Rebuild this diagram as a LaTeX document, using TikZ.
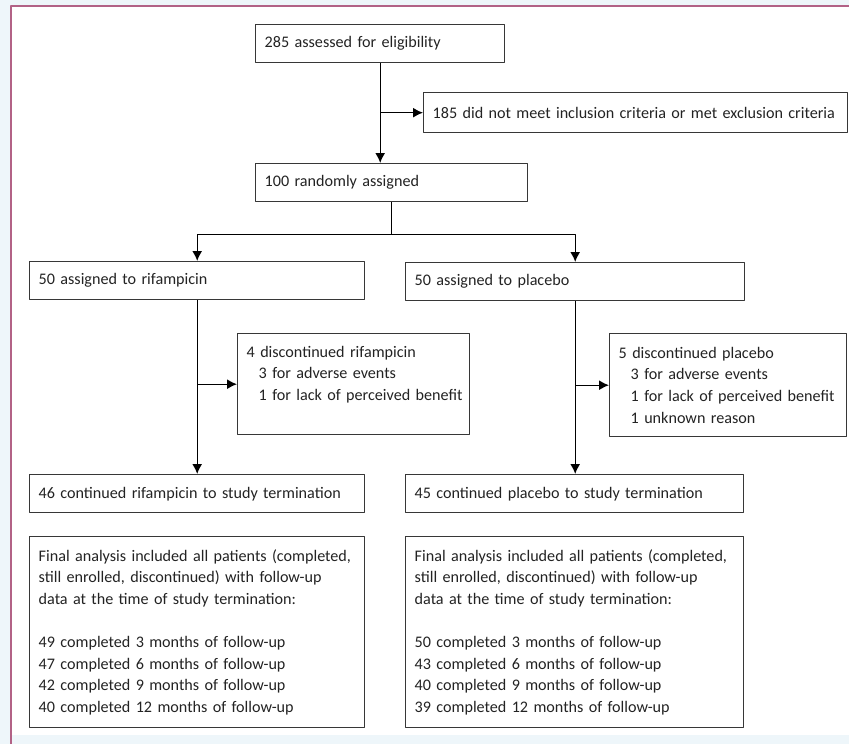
\documentclass[tikz,border=0pt]{standalone}
\usepackage{fontspec}
\setmainfont{Carlito}
\usetikzlibrary{arrows.meta,calc}
\definecolor{framepink}{RGB}{178,98,134}
\definecolor{boxline}{RGB}{55,55,55}
\definecolor{boxtext}{RGB}{35,35,35}
\definecolor{pagetint}{RGB}{238,246,250}
\begin{document}
\begin{tikzpicture}[x=1bp,y=-1bp,>={Latex[length=10bp,width=10bp]},line join=bevel,
  flowbox/.style={draw=boxline,line width=1.4bp,anchor=north west,inner xsep=9bp,inner ysep=0bp,
    align=left,text=boxtext,font=\fontsize{16.2}{21.7}\selectfont},
  flowline/.style={line width=1.4bp,draw=black}]
%%
\useasboundingbox (0,0) rectangle (849,744);
\fill [pagetint] (0,0) rectangle (849,744);
\fill [white] (12,7) rectangle (849,735);
\draw [framepink,line width=2bp] (11,744) -- (11,6) -- (849,6);
%
\node (elig) at (255,24) [flowbox,minimum width=249bp,minimum height=38bp,text width=231bp] {285 assessed for eligibility};
  \node (excl) at (423,92) [flowbox,minimum width=424bp,minimum height=40bp,text width=406bp] {185 did not meet inclusion criteria or met exclusion criteria};
  \node (rand) at (255,163) [flowbox,minimum width=272bp,minimum height=38bp,text width=254bp] {100 randomly assigned};
  \node (rif) at (29,261) [flowbox,minimum width=335bp,minimum height=38bp,text width=317bp] {50 assigned to rifampicin};
  \node (plac) at (405,262) [flowbox,minimum width=339bp,minimum height=38bp,text width=321bp] {50 assigned to placebo};
  \node (discR) at (237,333) [flowbox,minimum width=232bp,minimum height=101bp,text width=214bp] {4 discontinued rifampicin\\\hspace*{12bp}3 for adverse events\\\hspace*{12bp}\mbox{1 for lack of perceived benefit}\\\mbox{}};
  \node (discP) at (609,333) [flowbox,minimum width=237bp,minimum height=103bp,text width=219bp] {5 discontinued placebo\\\hspace*{12bp}3 for adverse events\\\hspace*{12bp}\mbox{1 for lack of perceived benefit}\\\hspace*{12bp}1 unknown reason};
  \node (contR) at (29,474) [flowbox,minimum width=335bp,minimum height=38bp,text width=317bp] {46 continued rifampicin to study termination};
  \node (contP) at (405,474) [flowbox,minimum width=338bp,minimum height=38bp,text width=320bp] {45 continued placebo to study termination};
  \node (finR) at (29,536) [flowbox,minimum width=335bp,minimum height=191bp,text width=317bp] {Final analysis included all patients (completed,\\still enrolled, discontinued) with follow-up\\data at the time of study termination:\\[21.7bp]49 completed 3 months of follow-up\\47 completed 6 months of follow-up\\42 completed 9 months of follow-up\\40 completed 12 months of follow-up};
  \node (finP) at (405,536) [flowbox,minimum width=338bp,minimum height=191bp,text width=320bp] {Final analysis included all patients (completed,\\still enrolled, discontinued) with follow-up\\data at the time of study termination:\\[21.7bp]50 completed 3 months of follow-up\\43 completed 6 months of follow-up\\40 completed 9 months of follow-up\\39 completed 12 months of follow-up};
  \coordinate (split) at ($(rand.south)+(0,32)$);
%
  \draw [flowline,->] (elig.south) -- (elig.south |- rand.north);
  \draw [flowline,->] (elig.south |- excl.west) -- (excl.west);
  \draw [flowline] (rand.south) -- (split);
  \draw [flowline,->] (split) -| (rif.north);
  \draw [flowline,->] (split) -| (plac.north);
  \draw [flowline,->] (rif.south) -- (contR.north);
  \draw [flowline,->] (rif.south |- discR.west) -- (discR.west);
  \draw [flowline,->] (plac.south) -- (plac.south |- contP.north);
  \draw [flowline,->] (plac.south |- discP.west) -- (discP.west);
%
\end{tikzpicture}
\end{document}
